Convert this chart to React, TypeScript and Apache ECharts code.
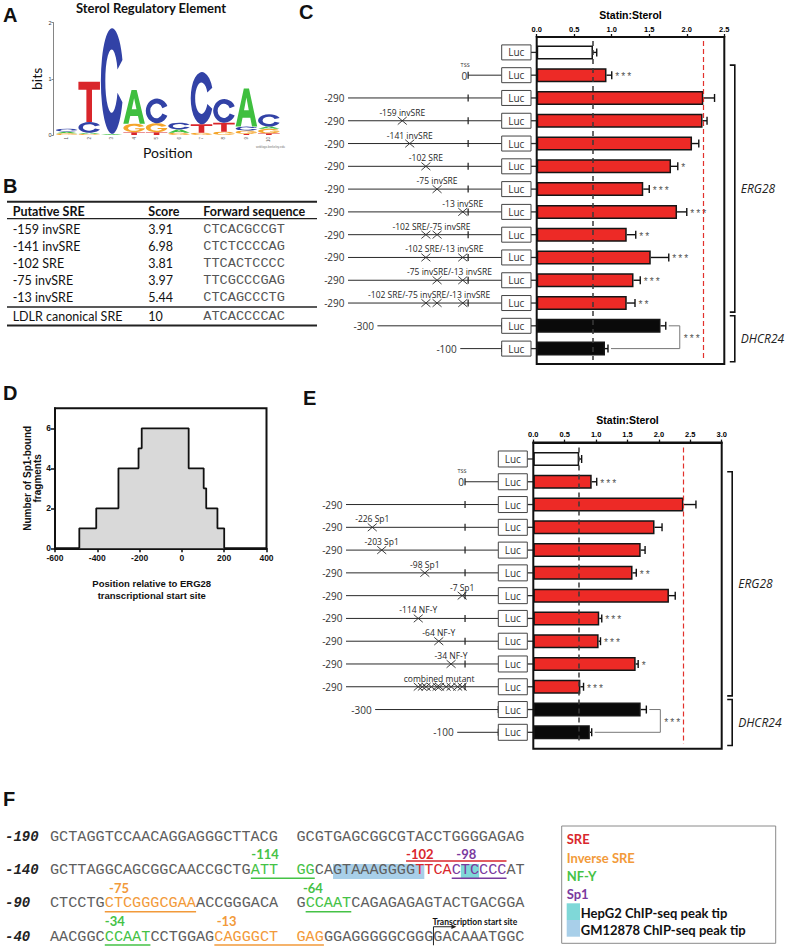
import React, { useEffect, useRef } from 'react';
import * as echarts from 'echarts';

const F_ARIAL = '"Liberation Sans", Arial, sans-serif';
const F_CAL = 'Lato, "Open Sans", sans-serif';
const F_MYR = '"Open Sans", "Noto Sans", sans-serif';
const F_MONO = '"Liberation Mono", "DejaVu Sans Mono", monospace';

// ---------------- Panel A: sequence logo ----------------
const logoTitle = 'Sterol Regulatory Element';
const logoPositions = ['1', '2', '3', '4', '5', '6', '7', '8', '9', '10'];
const logoStacks: [string, number][][] = [
  [['G', 0.03], ['A', 0.03], ['C', 0.05]],
  [['G', 0.02], ['A', 0.02], ['C', 0.19], ['T', 0.72]],
  [['A', 0.02], ['C', 1.88]],
  [['T', 0.05], ['G', 0.15], ['A', 0.6]],
  [['T', 0.05], ['G', 0.16], ['C', 0.44]],
  [['G', 0.04], ['A', 0.06], ['C', 0.12]],
  [['G', 0.04], ['T', 0.15], ['C', 0.93]],
  [['G', 0.06], ['T', 0.16], ['C', 0.42]],
  [['T', 0.02], ['G', 0.06], ['C', 0.07], ['A', 0.68]],
  [['T', 0.03], ['G', 0.08], ['A', 0.04], ['C', 0.22]],
];
const LETTER_COLORS: any = { A: '#3fbf3f', C: '#3242a6', G: '#f5a52a', T: '#d9262b' };
const LETTER_PATHS: any = {
  A: 'M0 100 L38 0 L62 0 L100 100 L76 100 L68 77 L32 77 L24 100 Z M39 57 L61 57 L50 24 Z',
  C: 'M96 30 A50 50 0 1 0 96 70 L74 61 A28 30 0 1 1 74 39 Z',
  G: 'M96 30 A50 50 0 1 0 100 52 L55 52 L55 64 L76 64 A28 30 0 1 1 74 39 Z',
  T: 'M0 0 L100 0 L100 20 L63 20 L63 100 L37 100 L37 20 L0 20 Z',
};

// ---------------- Panel B: table ----------------
const bHeaders = ['Putative SRE', 'Score', 'Forward sequence'];
const bNames = ['-159 invSRE', '-141 invSRE', '-102 SRE', '-75 invSRE', '-13 invSRE', 'LDLR canonical SRE'];
const bScores = ['3.91', '6.98', '3.81', '3.97', '5.44', '10'];
const bSeqs = ['CTCACGCCGT', 'CTCTCCCCAG', 'TTCACTCCCC', 'TTCGCCCGAG', 'CTCAGCCCTG', 'ATCACCCCAC'];

// ---------------- Panel C ----------------
const cNames = ['Luc', 'TSS', 'WT -290', '-159 invSRE', '-141 invSRE', '-102 SRE', '-75 invSRE', '-13 invSRE',
  '-102 SRE/-75 invSRE', '-102 SRE/-13 invSRE', '-75 invSRE/-13 invSRE', '-102 SRE/-75 invSRE/-13 invSRE', 'DHCR24 -300', 'DHCR24 -100'];
const cRatios = [0.75, 0.93, 2.22, 2.21, 2.07, 1.79, 1.42, 1.87, 1.20, 1.52, 1.29, 1.20, 1.65, 0.91];
const cErrors = [0.05, 0.07, 0.15, 0.06, 0.09, 0.09, 0.08, 0.13, 0.12, 0.24, 0.09, 0.11, 0.07, 0.04];
const cStars = ['', '***', '', '', '', '*', '***', '***', '**', '***', '***', '**', '', ''];
const cGroups = ['none', 'ERG28', 'ERG28', 'ERG28', 'ERG28', 'ERG28', 'ERG28', 'ERG28', 'ERG28', 'ERG28', 'ERG28', 'ERG28', 'DHCR24', 'DHCR24'];
const cStarts = [null, 0, -290, -290, -290, -290, -290, -290, -290, -290, -290, -290, -300, -100];
const cMutations = [[], [], [], [-159], [-141], [-102], [-75], [-13], [-102, -75], [-102, -13], [-75, -13], [-102, -75, -13], [], []];
const cMutLabels = ['', '', '', '-159 invSRE', '-141 invSRE', '-102 SRE', '-75 invSRE', '-13 invSRE',
  '-102 SRE/-75 invSRE', '-102 SRE/-13 invSRE', '-75 invSRE/-13 invSRE', '-102 SRE/-75 invSRE/-13 invSRE', '', ''];
const cRefLines = [0.75, 2.22];
const cGeneSpans: [number, number, string][] = [[1, 11, 'ERG28'], [12, 13, 'DHCR24']];
const cComparison = [12, 13];
const cComparisonStars = '***';

// ---------------- Panel D ----------------
const dEdges = [-485, -405, -300, -205, -190, 32, 103, 115, 168, 200];
const dCounts = [1, 2, 4, 5, 6, 4, 3, 2, 1, 0];

// ---------------- Panel E ----------------
const eNames = ['Luc', 'TSS', 'WT -290', '-226 Sp1', '-203 Sp1', '-98 Sp1', '-7 Sp1', '-114 NF-Y', '-64 NF-Y', '-34 NF-Y', 'combined mutant', 'DHCR24 -300', 'DHCR24 -100'];
const eRatios = [0.73, 0.93, 2.39, 1.93, 1.71, 1.58, 2.16, 1.05, 1.04, 1.63, 0.75, 1.71, 0.90];
const eErrors = [0.04, 0.08, 0.20, 0.12, 0.07, 0.06, 0.10, 0.04, 0.03, 0.04, 0.05, 0.09, 0.03];
const eStars = ['', '***', '', '', '', '**', '', '***', '***', '*', '***', '', ''];
const eGroups = ['none', 'ERG28', 'ERG28', 'ERG28', 'ERG28', 'ERG28', 'ERG28', 'ERG28', 'ERG28', 'ERG28', 'ERG28', 'DHCR24', 'DHCR24'];
const eStarts = [null, 0, -290, -290, -290, -290, -290, -290, -290, -290, -290, -300, -100];
const eMutations = [[], [], [], [-226], [-203], [-98], [-7], [-114], [-64], [-34], [-114, -104, -95, -82, -68, -62, -46, -34, -18, -7], [], []];
const eMutLabels = ['', '', '', '-226 Sp1', '-203 Sp1', '-98 Sp1', '-7 Sp1', '-114 NF-Y', '-64 NF-Y', '-34 NF-Y', 'combined mutant', '', ''];
const eRefLines = [0.73, 2.39];
const eGeneSpans: [number, number, string][] = [[1, 10, 'ERG28'], [11, 12, 'DHCR24']];
const eComparison = [11, 12];
const eComparisonStars = '***';

// ---------------- Panel F ----------------
const fLineLabels = ['-190', '-140', '-90', '-40'];
const fSequences = [
  'GCTAGGTCCAACAGGAGGGCTTACG  GCGTGAGCGGCGTACCTGGGGAGAG',
  'GCTTAGGCAGCGGCAACCGCTGATT  GGCAGTAAAGGGGTTCACTCCCCAT',
  'CTCCTGCTCGGGCGAAACCGGGACA  GCCAATCAGAGAGAGTACTGACGGA',
  'AACGGCCCAATCCTGGAGCAGGGCT  GAGGGAGGGGGCGGGGACAAATGGC',
];
// [line, firstChar, lastChar, type]
const fColorRuns: [number, number, number, string][] = [
  [1, 22, 24, 'NF-Y'], [1, 27, 28, 'NF-Y'], [1, 40, 43, 'SRE'], [1, 44, 49, 'Sp1'],
  [2, 6, 15, 'invSRE'], [2, 28, 32, 'NF-Y'],
  [3, 6, 10, 'NF-Y'], [3, 18, 24, 'invSRE'], [3, 27, 29, 'invSRE'],
];
// [line, fromChar, toChar(exclusive), type, side]
const fMarks: [number, number, number, string, string][] = [
  [1, 22, 29, 'NF-Y', 'under'], [1, 39, 50, 'SRE', 'over'], [1, 44, 50, 'Sp1', 'under'],
  [2, 6, 16, 'invSRE', 'under'], [2, 28, 33, 'NF-Y', 'under'],
  [3, 6, 11, 'NF-Y', 'under'], [3, 18, 30, 'invSRE', 'under'],
];
// [line, centre char, text, type]
const fSiteLabels: [number, number, string, string][] = [
  [1, 23.55, '-114', 'NF-Y'], [1, 40.5, '-102', 'SRE'], [1, 45.6, '-98', 'Sp1'],
  [2, 7.56, '-75', 'invSRE'], [2, 28.8, '-64', 'NF-Y'],
  [3, 7.1, '-34', 'NF-Y'], [3, 19.35, '-13', 'invSRE'],
];
const fHighlights: [number, number, number, string][] = [[1, 31, 41, 'GM12878'], [1, 45, 47, 'HepG2']];
const fTss = [3, 42];
const fTssLabel = 'Transcription start site';
const fLegendTexts: [string, string][] = [['SRE', 'SRE'], ['Inverse SRE', 'invSRE'], ['NF-Y', 'NF-Y'], ['Sp1', 'Sp1']];
const fLegendSwatches: [string, string][] = [['HepG2 ChIP-seq peak tip', 'HepG2'], ['GM12878 ChIP-seq peak tip', 'GM12878']];
const F_COLORS: any = {
  SRE: '#d9272d', invSRE: '#f29a3a', 'NF-Y': '#45c246', Sp1: '#7a3a9e', HepG2: '#7fd8d8', GM12878: '#a8cfe9',
};

const BAR_COLORS: any = { none: '#ffffff', ERG28: '#ed2a26', DHCR24: '#0a0a0a' };
const BOX_AT = 81; // construct axis value where the Luc box starts

function txt(x: number, y: number, text: string, font: string, fill = '#111', align = 'left', valign = 'middle', extra: any = {}) {
  return { type: 'text', x, y, silent: true, ...extra, style: { text, font, fill, textAlign: align, textVerticalAlign: valign } };
}
function ln(x1: number, y1: number, x2: number, y2: number, stroke = '#111', lineWidth = 1, extra: any = {}) {
  return { type: 'line', silent: true, ...extra, shape: { x1, y1, x2, y2 }, style: { stroke, lineWidth } };
}

function addAssayPanel(cfg: any, opt: any) {
  const { grid, xAxis, yAxis, series, graphic } = opt;
  const gBar = grid.length;
  grid.push({ left: cfg.barLeft, width: cfg.barWidth, top: cfg.top, height: cfg.height });
  const gCon = grid.length;
  grid.push({ left: cfg.conLeft, width: cfg.conWidth, top: cfg.top, height: cfg.height });
  const xB = xAxis.length;
  xAxis.push({
    gridIndex: gBar, type: 'value', position: 'top', offset: cfg.axisOffset, min: 0, max: cfg.xMax, interval: 0.5,
    name: 'Statin:Sterol', nameLocation: 'middle', nameGap: 17,
    nameTextStyle: { fontSize: 10.5, fontWeight: 'bold', fontFamily: F_ARIAL, color: '#000000' },
    axisLine: { show: true, onZero: false, lineStyle: { color: '#111', width: 2 } },
    axisTick: { show: true, length: 3, lineStyle: { color: '#111', width: 1.3 } },
    axisLabel: { formatter: (v: number) => v.toFixed(1), fontSize: 7.5, fontWeight: 'bold', color: '#000000', fontFamily: F_ARIAL, margin: 4 },
    splitLine: { show: false },
  });
  const xC = xAxis.length;
  xAxis.push({ gridIndex: gCon, type: 'value', min: -290, max: BOX_AT, show: false });
  const yB = yAxis.length;
  yAxis.push({ gridIndex: gBar, type: 'category', inverse: true, data: cfg.names, show: false });
  const yC = yAxis.length;
  yAxis.push({ gridIndex: gCon, type: 'category', inverse: true, data: cfg.names, show: false });

  // frame
  graphic.push({
    type: 'rect', z: 10, silent: true,
    shape: { x: cfg.barLeft, y: cfg.top - cfg.axisOffset, width: cfg.barWidth, height: cfg.height + 2 * cfg.axisOffset },
    style: { fill: 'none', stroke: '#111', lineWidth: 2 },
  });

  series.push({
    type: 'bar', xAxisIndex: xB, yAxisIndex: yB, barWidth: cfg.barThickness, silent: true,
    data: cfg.ratios.map((v: number, i: number) => ({ value: v, itemStyle: { color: BAR_COLORS[cfg.groups[i]], borderColor: '#151515', borderWidth: 1.5 } })),
    markLine: {
      silent: true, symbol: ['none', 'none'], label: { show: false },
      data: [
        { xAxis: cfg.refLines[0], lineStyle: { color: '#3a3a3a', type: [5, 4], width: 1.5 } },
        { xAxis: cfg.refLines[1], lineStyle: { color: '#e2312c', type: [5, 3], width: 1.2 } },
      ],
    },
    z: 2,
  });

  // error bars + stars
  series.push({
    type: 'custom', xAxisIndex: xB, yAxisIndex: yB, silent: true, clip: false, z: 4,
    data: cfg.ratios.map((v: number, i: number) => [v + cfg.errors[i], i]),
    encode: { x: 0, y: 1 },
    renderItem: (params: any, api: any) => {
      const i = params.dataIndex;
      const v = cfg.ratios[i];
      const e = cfg.errors[i];
      const p0 = api.coord([v, i]);
      const p1 = api.coord([v + e, i]);
      const kids: any[] = [
        { type: 'line', shape: { x1: p0[0], y1: p0[1], x2: p1[0], y2: p1[1] }, style: { stroke: '#111', lineWidth: 1.4 } },
        { type: 'line', shape: { x1: p1[0], y1: p1[1] - 4, x2: p1[0], y2: p1[1] + 4 }, style: { stroke: '#111', lineWidth: 1.4 } },
      ];
      if (cfg.stars[i]) {
        kids.push({ type: 'text', style: { text: cfg.stars[i], x: p1[0] + 2.5, y: p1[1] + 2.5, font: '10px ' + F_MONO, fill: '#555', textAlign: 'left', textVerticalAlign: 'middle' } });
      }
      return { type: 'group', children: kids };
    },
  });

  // comparison bracket between the two DHCR24 constructs
  series.push({
    type: 'custom', xAxisIndex: xB, yAxisIndex: yB, silent: true, clip: false, z: 4,
    data: [[cfg.comparison[0], cfg.comparison[1]]],
    renderItem: (params: any, api: any) => {
      const [a, b] = cfg.comparison;
      const pa = api.coord([cfg.ratios[a] + cfg.errors[a], a]);
      const pb = api.coord([cfg.ratios[b] + cfg.errors[b], b]);
      const xb = Math.max(pa[0], pb[0]) + 14;
      const st = { stroke: '#777', lineWidth: 1 };
      return {
        type: 'group', children: [
          { type: 'polyline', shape: { points: [[pa[0] + 3, pa[1]], [xb, pa[1]], [xb, pb[1]], [pb[0] + 3, pb[1]]] }, style: { ...st, fill: 'none' } },
          { type: 'text', style: { text: cfg.comparisonStars, x: xb + 3, y: (pa[1] + pb[1]) / 2 + 2.5, font: '10px ' + F_MONO, fill: '#555', textAlign: 'left', textVerticalAlign: 'middle' } },
        ],
      };
    },
  });

  // gene brackets on the right
  series.push({
    type: 'custom', xAxisIndex: xB, yAxisIndex: yB, silent: true, clip: false, z: 4,
    data: cfg.geneSpans.map((s: any) => [s[0], s[1]]),
    renderItem: (params: any, api: any) => {
      const [s, e, label] = cfg.geneSpans[params.dataIndex];
      const band = api.size([0, 1])[1];
      const last = params.dataIndex === cfg.geneSpans.length - 1;
      const y0 = api.coord([0, s])[1] - band * 0.44;
      const y1 = api.coord([0, e])[1] + band * (last ? 0.58 : 0.4);
      const xr = cfg.barLeft + cfg.barWidth + 5.5;
      return {
        type: 'group', children: [
          { type: 'polyline', shape: { points: [[xr, y0], [xr + 5, y0], [xr + 5, y1], [xr, y1]] }, style: { stroke: '#111', lineWidth: 1.6, fill: 'none' } },
          { type: 'text', style: { text: label, x: xr + 11, y: (y0 + y1) / 2, font: 'italic 12px ' + F_MYR, fill: '#222', textAlign: 'left', textVerticalAlign: 'middle' } },
        ],
      };
    },
  });

  // promoter constructs
  series.push({
    type: 'custom', xAxisIndex: xC, yAxisIndex: yC, silent: true, clip: false, z: 4,
    data: cfg.names.map((_: any, i: number) => [0, i]),
    encode: { x: 0, y: 1 },
    renderItem: (params: any, api: any) => {
      const i = params.dataIndex;
      const yc = api.coord([0, i])[1];
      const boxL = api.coord([BOX_AT, i])[0];
      const isD = cfg.groups[i] === 'DHCR24';
      const tss = isD ? BOX_AT : 0;
      const kids: any[] = [];
      const dark = '#2a2a2a';
      const start = cfg.starts[i];
      if (start !== null) {
        const xs = api.coord([tss + start, i])[0];
        const xt = api.coord([tss, i])[0];
        kids.push({ type: 'line', shape: { x1: xs, y1: yc, x2: boxL, y2: yc }, style: { stroke: dark, lineWidth: 1 } });
        kids.push({ type: 'line', shape: { x1: xt, y1: yc - 3.5, x2: xt, y2: yc + 3.5 }, style: { stroke: dark, lineWidth: 1.3 } });
        if (start === 0) {
          kids.push({ type: 'text', style: { text: '0', x: xs - 1, y: yc + 0.5, font: '10px ' + F_MYR, fill: '#333', textAlign: 'right', textVerticalAlign: 'middle' } });
          kids.push({ type: 'text', style: { text: 'TSS', x: xs - 3, y: yc - 10.5, font: '5.5px ' + F_MYR, fill: '#333', textAlign: 'center', textVerticalAlign: 'middle' } });
        } else {
          kids.push({ type: 'text', style: { text: String(start), x: xs - 3.5, y: yc, font: '10px ' + F_MYR, fill: '#333', textAlign: 'right', textVerticalAlign: 'middle' } });
        }
      }
      const muts: number[] = cfg.mutations[i];
      if (muts.length) {
        let sum = 0;
        muts.forEach((m) => {
          const x = api.coord([tss + m, i])[0];
          sum += x;
          kids.push({ type: 'line', shape: { x1: x - 4.5, y1: yc - 3.8, x2: x + 4.5, y2: yc + 3.8 }, style: { stroke: dark, lineWidth: 0.9 } });
          kids.push({ type: 'line', shape: { x1: x - 4.5, y1: yc + 3.8, x2: x + 4.5, y2: yc - 3.8 }, style: { stroke: dark, lineWidth: 0.9 } });
        });
        const label = cfg.mutLabels[i];
        const est = label.length * 4.5;
        const cx = Math.min(sum / muts.length, boxL - 5 - est / 2);
        kids.push({ type: 'text', style: { text: label, x: cx, y: yc - 8.5, font: '8.5px ' + F_MYR, fill: '#262626', textAlign: 'center', textVerticalAlign: 'middle' } });
      }
      kids.push({ type: 'line', shape: { x1: boxL + cfg.boxW, y1: yc, x2: cfg.barLeft, y2: yc }, style: { stroke: dark, lineWidth: 1.3 } });
      kids.push({ type: 'rect', shape: { x: boxL, y: yc - cfg.boxH / 2, width: cfg.boxW, height: cfg.boxH }, style: { fill: '#fff', stroke: '#444', lineWidth: 1 } });
      kids.push({ type: 'text', style: { text: 'Luc', x: boxL + cfg.boxW / 2, y: yc, font: '10px ' + F_MYR, fill: '#333', textAlign: 'center', textVerticalAlign: 'middle' } });
      return { type: 'group', children: kids };
    },
  });
}

function buildOption() {
  const grid: any[] = [];
  const xAxis: any[] = [];
  const yAxis: any[] = [];
  const series: any[] = [];
  const graphic: any[] = [];
  const opt = { grid, xAxis, yAxis, series, graphic };

  // ----- Panel letters -----
  const panelFont = 'bold 20px ' + F_ARIAL;
  graphic.push(txt(3, 14.5, 'A', panelFont));
  graphic.push(txt(3, 185.5, 'B', panelFont));
  graphic.push(txt(299, 12, 'C', panelFont));
  graphic.push(txt(3, 392.5, 'D', panelFont));
  graphic.push(txt(303, 397.5, 'E', panelFont));
  graphic.push(txt(3, 798.5, 'F', panelFont));

  // ----- Panel A -----
  graphic.push(txt(151, 8, logoTitle, 'bold 13px ' + F_CAL, '#111', 'center'));
  grid.push({ left: 55.5, width: 224.6, top: 22.7, height: 112.3 });
  xAxis.push({
    gridIndex: 0, type: 'category', data: logoPositions,
    axisLine: { show: false }, axisTick: { show: false },
    axisLabel: { fontSize: 4.5, rotate: 90, color: '#555', margin: 2, fontFamily: F_ARIAL },
    name: 'Position', nameLocation: 'middle', nameGap: 9,
    nameTextStyle: { fontSize: 14, fontFamily: F_CAL, color: '#111' },
  });
  yAxis.push({
    gridIndex: 0, type: 'value', min: 0, max: 2, interval: 1, offset: 2,
    axisLine: { show: true, onZero: false, lineStyle: { color: '#666', width: 0.8 } },
    axisTick: { show: true, length: 2, lineStyle: { color: '#666', width: 0.8 } },
    axisLabel: { fontSize: 5.5, color: '#333', margin: 2, fontFamily: F_ARIAL },
    splitLine: { show: false },
    name: 'bits', nameLocation: 'middle', nameGap: 10,
    nameTextStyle: { fontSize: 14, fontFamily: F_CAL, color: '#111' },
  });
  const logoData: number[][] = [];
  const logoLetters: string[] = [];
  logoStacks.forEach((stack, p) => {
    let b = 0;
    stack.forEach(([L, h]) => {
      logoData.push([p, b, b + h]);
      logoLetters.push(L);
      b += h;
    });
  });
  series.push({
    type: 'custom', xAxisIndex: 0, yAxisIndex: 0, silent: true, clip: false,
    data: logoData, encode: { x: 0, y: [1, 2] },
    renderItem: (params: any, api: any) => {
      const p = api.value(0);
      const b = api.value(1);
      const t = api.value(2);
      const L = logoLetters[params.dataIndex];
      const band = api.size([1, 0])[0];
      const c0 = api.coord([p, t]);
      const c1 = api.coord([p, b]);
      const w = band * 0.96;
      return {
        type: 'path',
        shape: { pathData: LETTER_PATHS[L], x: c0[0] - w / 2, y: c0[1], width: w, height: Math.max(c1[1] - c0[1], 0.6), layout: 'cover' },
        style: { fill: LETTER_COLORS[L] },
      };
    },
  });
  graphic.push(txt(256, 147, 'weblogo.berkeley.edu', '3px ' + F_ARIAL, '#777'));

  // ----- Panel B -----
  const tL = 7, tR = 317;
  graphic.push(ln(tL, 201.7, tR, 201.7, '#222', 2));
  graphic.push(ln(tL, 218.6, tR, 218.6, '#222', 1.3));
  graphic.push(ln(tL, 307, tR, 307, '#222', 1.3));
  graphic.push(ln(tL, 325.5, tR, 325.5, '#222', 2));
  const colX = [12.7, 148.3, 203.3];
  bHeaders.forEach((h, k) => graphic.push(txt(colX[k], 211, h, 'bold 12.5px ' + F_CAL, '#111')));
  bNames.forEach((n, i) => {
    const y = 229.3 + i * 17.1 + (i === bNames.length - 1 ? 1.5 : 0);
    graphic.push(txt(colX[0], y, n, '12.5px ' + F_CAL, '#111'));
    graphic.push(txt(colX[1], y, bScores[i], '12.5px ' + F_CAL, '#111'));
    graphic.push(txt(colX[2], y, bSeqs[i], '13.6px ' + F_MONO, '#555'));
  });

  // ----- Panel C -----
  addAssayPanel({
    names: cNames, ratios: cRatios, errors: cErrors, stars: cStars, groups: cGroups, starts: cStarts,
    mutations: cMutations, mutLabels: cMutLabels, refLines: cRefLines, geneSpans: cGeneSpans,
    comparison: cComparison, comparisonStars: cComparisonStars, xMax: 2.5,
    barLeft: 536.7, barWidth: 187.6, top: 41, height: 319, axisOffset: 4,
    conLeft: 348, conWidth: 153.7, boxW: 29.3, boxH: 15, barThickness: 14,
  }, opt);

  // ----- Panel D -----
  const gD = grid.length;
  grid.push({ left: 55, width: 211.5, top: 408.3, height: 140, show: true, borderColor: '#111', borderWidth: 2, backgroundColor: 'transparent' });
  const xD = xAxis.length;
  xAxis.push({
    gridIndex: gD, type: 'value', min: -600, max: 400, interval: 200,
    axisLine: { show: true, onZero: false, lineStyle: { color: '#111', width: 2 } },
    axisTick: { show: true, length: 4, lineStyle: { color: '#111', width: 1.5 } },
    axisLabel: { fontSize: 8.5, fontWeight: 'bold', color: '#111', fontFamily: F_ARIAL, margin: 5 },
    splitLine: { show: false },
    name: 'Position relative to ERG28\ntranscriptional start site', nameLocation: 'middle', nameGap: 29,
    nameTextStyle: { fontSize: 9.5, fontWeight: 'bold', fontFamily: F_ARIAL, color: '#111', lineHeight: 12, padding: [0, 18, 0, 0] },
  });
  const yD = yAxis.length;
  yAxis.push({
    gridIndex: gD, type: 'value', min: 0, max: 7, interval: 2,
    axisLine: { show: true, onZero: false, lineStyle: { color: '#111', width: 2 } },
    axisTick: { show: true, length: 4, lineStyle: { color: '#111', width: 1.5 } },
    axisLabel: { fontSize: 8.5, fontWeight: 'bold', color: '#111', fontFamily: F_ARIAL, margin: 4, showMaxLabel: false },
    splitLine: { show: false },
    name: 'Number of Sp1-bound\nfragments', nameLocation: 'middle', nameGap: 13,
    nameTextStyle: { fontSize: 10, fontWeight: 'bold', fontFamily: F_ARIAL, color: '#111', lineHeight: 10 },
  });
  const dData: number[][] = [[dEdges[0], 0]];
  dEdges.forEach((x, k) => dData.push([x, dCounts[k]]));
  series.push({
    type: 'line', xAxisIndex: xD, yAxisIndex: yD, step: 'end', symbol: 'none', silent: true,
    data: dData, lineStyle: { color: '#111', width: 1.8 }, areaStyle: { color: '#d9d9d9', opacity: 1 },
  });

  // ----- Panel E -----
  addAssayPanel({
    names: eNames, ratios: eRatios, errors: eErrors, stars: eStars, groups: eGroups, starts: eStarts,
    mutations: eMutations, mutLabels: eMutLabels, refLines: eRefLines, geneSpans: eGeneSpans,
    comparison: eComparison, comparisonStars: eComparisonStars, xMax: 3,
    barLeft: 533.3, barWidth: 188.4, top: 447.6, height: 296.1, axisOffset: 5,
    conLeft: 346, conWidth: 152.3, boxW: 29, boxH: 16, barThickness: 14,
  }, opt);

  // ----- Panel F -----
  const seqLeft = 50;
  const cw = 9.13;
  const lineY0 = 836.7;
  const lineDy = 33.35;
  fSequences.forEach((seq, li) => {
    const yc = lineY0 + li * lineDy;
    graphic.push(txt(5, yc, fLineLabels[li], 'italic bold 14px ' + F_MONO, '#222'));
    fHighlights.filter((h) => h[0] === li).forEach(([, a, b, k]) => {
      graphic.push({ type: 'rect', silent: true, shape: { x: seqLeft + a * cw, y: yc - 6, width: (b - a) * cw, height: 15 }, style: { fill: F_COLORS[k] } });
    });
    const colors: (string | null)[] = seq.split('').map((ch) => (ch === ' ' ? null : '#5e5e5e'));
    fColorRuns.filter((r) => r[0] === li).forEach(([, a, b, k]) => {
      for (let c = a; c <= b; c++) if (colors[c]) colors[c] = F_COLORS[k];
    });
    let s = 0;
    for (let c = 1; c <= seq.length; c++) {
      if (c === seq.length || colors[c] !== colors[s]) {
        if (colors[s]) graphic.push(txt(seqLeft + s * cw, yc, seq.slice(s, c), '15.2px ' + F_MONO, colors[s] as string));
        s = c;
      }
    }
    fMarks.filter((m) => m[0] === li).forEach(([, a, b, k, side]) => {
      const y = side === 'over' ? yc - 9 : yc + 8.3;
      graphic.push(ln(seqLeft + a * cw, y, seqLeft + b * cw, y, F_COLORS[k], 1.5));
    });
    fSiteLabels.filter((l) => l[0] === li).forEach(([, c, t, k]) => {
      graphic.push(txt(seqLeft + c * cw, yc - 15.7, t, 'bold 13px ' + F_CAL, F_COLORS[k], 'center'));
    });
    if (fTss[0] === li) {
      const x = seqLeft + fTss[1] * cw;
      graphic.push(ln(x, yc - 10, x, yc + 8.5, '#222', 1));
      graphic.push(ln(x, yc - 10, x + 20, yc - 10, '#222', 1));
      graphic.push({ type: 'polygon', silent: true, shape: { points: [[x + 23, yc - 10], [x + 18, yc - 12.3], [x + 18, yc - 7.7]] }, style: { fill: '#222' } });
      graphic.push(txt(x - 1, yc - 14.5, fTssLabel, 'bold 8.5px ' + F_CAL, '#111'));
    }
  });
  // legend
  graphic.push({ type: 'rect', silent: true, shape: { x: 561.7, y: 826, width: 214, height: 117.3 }, style: { fill: 'none', stroke: '#8a8a8a', lineWidth: 1 } });
  fLegendTexts.forEach(([t, k], j) => graphic.push(txt(566.7, 839.3 + j * 18.3, t, 'bold 13px ' + F_CAL, F_COLORS[k])));
  fLegendSwatches.forEach(([t, k], j) => {
    const y = 903.3 + j * 16.7;
    graphic.push({ type: 'rect', silent: true, shape: { x: 566.7, y, width: 13.3, height: 16.7 }, style: { fill: F_COLORS[k] } });
    graphic.push(txt(580.7, y + 9.5, t, 'bold 13px ' + F_CAL, '#111'));
  });

  return {
    animation: false,
    backgroundColor: '#ffffff',
    textStyle: { fontFamily: F_ARIAL },
    grid, xAxis, yAxis, series, graphic,
  };
}

export default function App() {
  const ref = useRef<HTMLDivElement>(null);
  useEffect(() => {
    const chart = echarts.init(ref.current as HTMLDivElement, null, { renderer: 'svg' });
    chart.setOption(buildOption() as any);
    return () => chart.dispose();
  }, []);
  return <div ref={ref} style={{ position: 'absolute', left: 0, top: 0, width: 785, height: 950, background: '#fff' }} />;
}
